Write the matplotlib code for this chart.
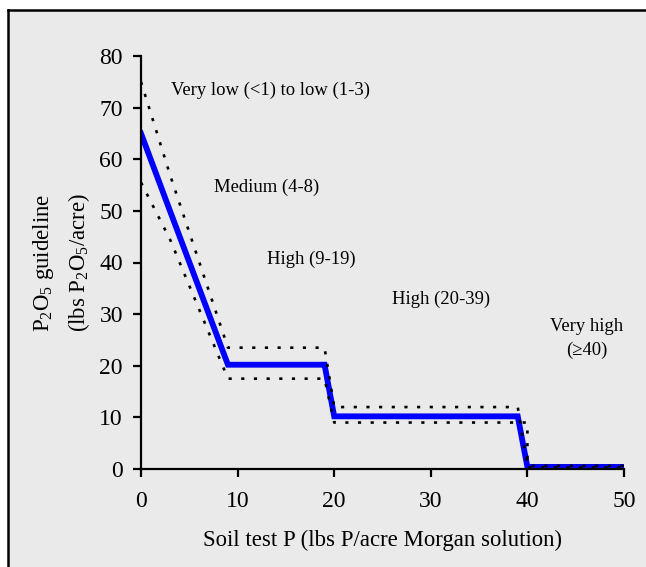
import matplotlib
matplotlib.use("Agg")
import matplotlib.pyplot as plt
from matplotlib.patches import Rectangle
from matplotlib.lines import Line2D

plt.rcParams['font.family'] = ['Liberation Serif', 'DejaVu Serif']
plt.rcParams['mathtext.fontset'] = 'custom'
plt.rcParams['mathtext.rm'] = 'Liberation Serif'
plt.rcParams['mathtext.it'] = 'Liberation Serif:italic'
plt.rcParams['mathtext.default'] = 'rm'

# Data
guide_x = [0, 3, 9, 19, 20, 39, 40, 50]
guide_y = [65, 50, 20.2, 20.2, 10.2, 10.2, 0.4, 0.4]
upper_x = [0, 3, 9, 19, 20, 39, 40, 50]
upper_y = [75, 57, 23.5, 23.5, 12, 12, 0.6, 0.6]
lower_x = [0, 3, 9, 19, 20, 40, 40, 50]
lower_y = [55.5, 44.5, 17.5, 17.5, 9, 9, 0.3, 0.3]

labels = ["Very low (<1) to low (1-3)", "Medium (4-8)", "High (9-19)", "High (20-39)"]
label_x = [3.1, 7.6, 13.0, 26.0]
label_y = [73.4, 54.5, 40.7, 32.8]

xticks = [0, 10, 20, 30, 40, 50]
yticks = [0, 10, 20, 30, 40, 50, 60, 70, 80]

bg = '#EAEAEA'
W, H = 646, 567
fig = plt.figure(figsize=(6.46, 5.67), dpi=100, facecolor='white')
fig.patches.append(Rectangle((8/W, 0), 1, 1 - 10/H, transform=fig.transFigure,
                             facecolor=bg, edgecolor='none', zorder=-10))
fig.lines.append(Line2D([8/W, 8/W], [0, 1 - 10/H], transform=fig.transFigure,
                        color='black', lw=1.8, solid_capstyle='projecting'))
fig.lines.append(Line2D([8/W, 1], [1 - 10/H, 1 - 10/H], transform=fig.transFigure,
                        color='black', lw=1.8, solid_capstyle='projecting'))

ax = fig.add_axes([141/W, 1-469/H, (624-141)/W, (469-56)/H])
ax.set_facecolor('none')

ax.plot(upper_x, upper_y, color='black', lw=1.9, linestyle=(0, (1.2, 3.6)), zorder=3)
ax.plot(lower_x, lower_y, color='black', lw=1.9, linestyle=(0, (1.2, 3.6)), zorder=3)
ax.plot(guide_x, guide_y, color='#0000FF', lw=4.2, solid_joinstyle='miter', zorder=2)

for t, x, y in zip(labels, label_x, label_y):
    ax.text(x, y, t, fontsize=13.4, ha='left', va='center')
ax.text(46.1, 25.3, "Very high\n(≥40)", fontsize=13.4, ha='center', va='center',
        linespacing=1.55)

ax.set_xlim(0, 50)
ax.set_ylim(0, 80)
ax.set_xticks(xticks)
ax.set_yticks(yticks)
ax.tick_params(direction='out', length=6, width=1.6, labelsize=17, colors='black')
ax.tick_params(axis='y', pad=7)
ax.tick_params(axis='x', pad=10)
for s in ['top', 'right']:
    ax.spines[s].set_visible(False)
for s in ['left', 'bottom']:
    ax.spines[s].set_linewidth(1.6)
ax.set_xlabel("Soil test P (lbs P/acre Morgan solution)", fontsize=16.4, labelpad=13)
ax.set_ylabel("P$_2$O$_5$ guideline\n(lbs P$_2$O$_5$/acre)", fontsize=16.4, labelpad=5,
              linespacing=1.55)

fig.savefig("out.png", dpi=100, facecolor='white')
